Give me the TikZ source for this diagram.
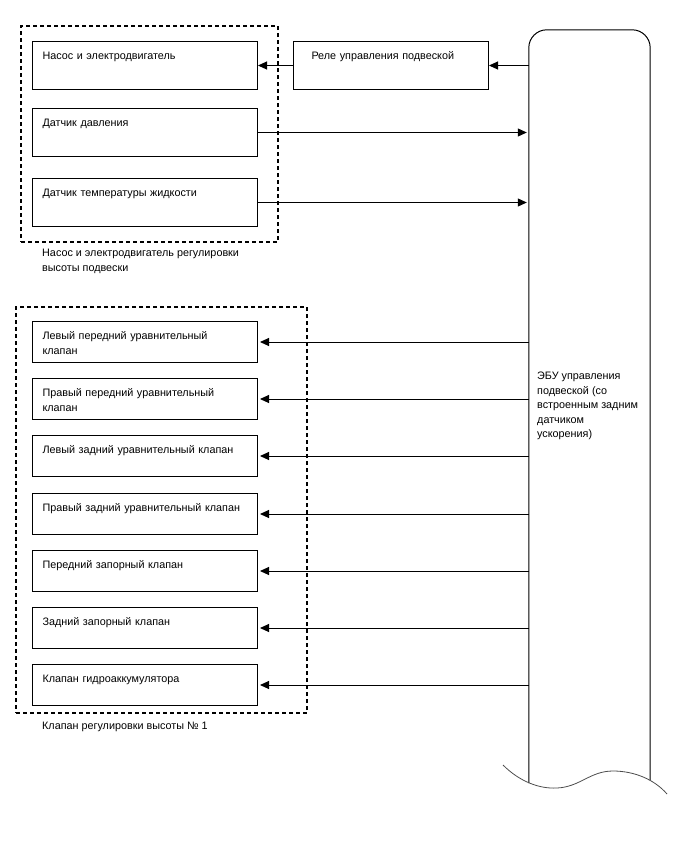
\documentclass[tikz,border=0pt]{standalone}
\usepackage{fontspec}
\setmainfont{Liberation Sans}
\usetikzlibrary{arrows.meta,positioning,fit,calc}
\tikzset{
  >={Triangle[length=9pt,width=8pt]},
  font=\fontsize{10.8}{14.5}\selectfont,
  unitbox/.style={draw,line width=1pt,anchor=north west,text width=205pt,align=left,
                  inner xsep=10pt,inner ysep=10pt,text height=8pt,text depth=#1},
  unitbox/.default=20pt,
  valvebox/.style={unitbox=13pt},
  groupframe/.style={draw,line width=1.2pt,dash pattern=on 4pt off 3pt,inner sep=0pt},
  grouplbl/.style={anchor=north west,align=left,inner sep=0pt},
  flow/.style={->,line width=1pt},
  eculine/.style={line width=1pt},
}

\begin{document}
\begin{tikzpicture}[x=1pt,y=-1pt]
  \useasboundingbox (0,0) rectangle (688,852);

  % ---- pump and motor group ----
  \node[unitbox] (pump) at (32,41) {Насос и электродвигатель};
  \node[unitbox,below=18pt of pump] (press) {Датчик давления};
  \node[unitbox,below=21pt of press] (temp) {Датчик температуры жидкости};
  \node[groupframe,fit={(21,26) (278,242)}] (pumpgrp) {};
  \node[grouplbl] (pumplbl) at (42,249)
    {Насос и электродвигатель регулировки\\высоты подвески};

  % ---- relay ----
  \node[unitbox,text width=159pt,inner xsep=18pt] (relay) at (293,41)
    {Реле управления подвеской};

  % ---- ECU, open at the bottom ----
  \node[inner sep=0pt,fit={(529,30) (650,783)}] (ecu) {};
  \draw[eculine,rounded corners=18pt] (ecu.south west) -- (ecu.north west)
    -- (ecu.north east) -- (650,780);
  \draw[line width=0.8pt,black!70] (503,765) .. controls (520,782) and (540,789) .. (557,788)
    .. controls (580,787) and (590,771) .. (613,771)
    .. controls (635,771) and (655,780) .. (667,794);
  \node[grouplbl] (ecutext) at (537,372)
    {ЭБУ управления\\подвеской (со\\встроенным задним\\датчиком\\ускорения)};

  % ---- height control valve group ----
  \node[valvebox] (lfv) at (32,321) {Левый передний уравнительный\\клапан};
  \node[valvebox,below=15pt of lfv] (rfv) {Правый передний уравнительный\\клапан};
  \node[valvebox,below=15pt of rfv] (lrv) {Левый задний уравнительный клапан};
  \node[valvebox,below=16pt of lrv] (rrv) {Правый задний уравнительный клапан};
  \node[valvebox,below=15pt of rrv] (fcv) {Передний запорный клапан};
  \node[valvebox,below=15pt of fcv] (rcv) {Задний запорный клапан};
  \node[valvebox,below=15pt of rcv] (acc) {Клапан гидроаккумулятора};
  \node[groupframe,fit={(16,307) (307,713)}] (valvegrp) {};
  \node[grouplbl] (valvelbl) at (42,722) {Клапан регулировки высоты № 1};

  % ---- signals ----
  \draw[flow] (relay.west) -- (pump.east);
  \draw[flow] (ecu.west |- relay.east) -- (relay.east);
  \draw[flow,shorten >=2pt] (press.east) -- (ecu.west |- press.east);
  \draw[flow,shorten >=2pt] (temp.east) -- (ecu.west |- temp.east);
  \draw[flow,shorten >=2pt] (ecu.west |- lfv.east) -- (lfv.east);
  \draw[flow,shorten >=2pt] (ecu.west |- rfv.east) -- (rfv.east);
  \draw[flow,shorten >=2pt] (ecu.west |- lrv.east) -- (lrv.east);
  \draw[flow,shorten >=2pt] (ecu.west |- rrv.east) -- (rrv.east);
  \draw[flow,shorten >=2pt] (ecu.west |- fcv.east) -- (fcv.east);
  \draw[flow,shorten >=2pt] (ecu.west |- rcv.east) -- (rcv.east);
  \draw[flow,shorten >=2pt] (ecu.west |- acc.east) -- (acc.east);
\end{tikzpicture}
\end{document}
